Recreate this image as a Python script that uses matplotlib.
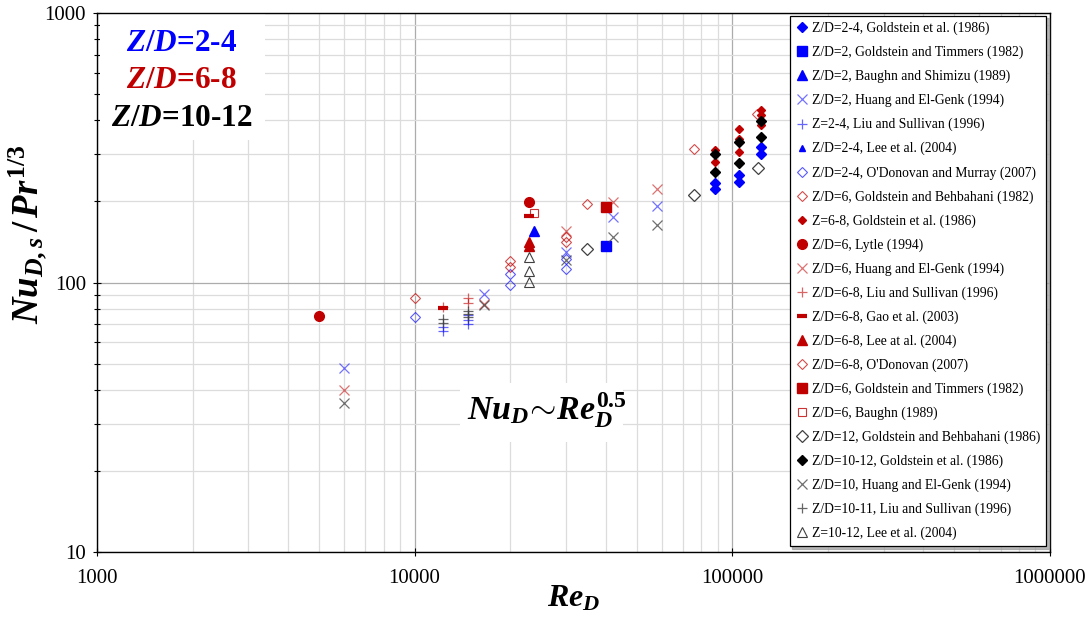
import numpy as np
import matplotlib
matplotlib.use("Agg")
import matplotlib.pyplot as plt
from matplotlib.patches import Rectangle
from matplotlib.ticker import LogLocator, NullFormatter, FixedLocator, FixedFormatter

plt.rcParams['font.family'] = ['Liberation Serif', 'DejaVu Serif']
plt.rcParams['mathtext.fontset'] = 'custom'
plt.rcParams['mathtext.rm'] = 'Liberation Serif:bold'
plt.rcParams['mathtext.it'] = 'Liberation Serif:italic:bold'
plt.rcParams['mathtext.bf'] = 'Liberation Serif:bold'

BLUE = '#0000FF'
RED = '#C00000'
BLACK = '#000000'
GREY = '#404040'

# ---- data (Re_D, Nu/Pr^1/3) ----
# Z/D = 2-4
gold86_24_re = [88000, 88000, 105000, 105000, 123000, 123000]
gold86_24_nu = [235, 222, 250, 236, 318, 301]
goldtim_2_re = [40000]
goldtim_2_nu = [137]
baughn_2_re = [23700]
baughn_2_nu = [156]
huang_2_re = [6000, 16600, 30000, 42000, 58000]
huang_2_nu = [48.4, 91, 130, 175, 192]
liu_24_re = [12300, 12300, 14700, 14700, 14700]
liu_24_nu = [68.4, 66.2, 75.5, 72.6, 70.2]
lee_24_re = [23700]
lee_24_nu = [155]
odon_24_re = [10000, 20000, 20000, 30000, 30000]
odon_24_nu = [74.7, 107.6, 98.3, 122.5, 112.5]

# Z/D = 6-8
goldbeh_6_re = [35000, 76000, 120000]
goldbeh_6_nu = [195, 312, 421]
gold86_68_re = [88000, 88000, 105000, 105000, 105000, 123000, 123000, 123000]
gold86_68_nu = [310, 280, 372, 342, 305, 438, 418, 383]
lytle_6_re = [5000, 23000]
lytle_6_nu = [75, 199]
huang_6_re = [6000, 16600, 30000, 42000, 58000]
huang_6_nu = [40, 83, 156, 199, 223]
liu_68_re = [12300, 14700, 14700]
liu_68_nu = [81, 88, 84]
gao_68_re = [12300, 23000]
gao_68_nu = [80.3, 177]
lee_68_re = [23000, 23000]
lee_68_nu = [141, 137]
odon_68_re = [10000, 20000, 20000, 30000, 30000]
odon_68_nu = [88, 120, 114.7, 147, 141]
goldtim_6_re = [40000]
goldtim_6_nu = [190.6]
baughn_6_re = [23700]
baughn_6_nu = [181]

# Z/D = 10-12
goldbeh_12_re = [35000, 76000, 121000]
goldbeh_12_nu = [133, 212, 267]
gold86_1012_re = [88000, 88000, 105000, 105000, 123000, 123000]
gold86_1012_nu = [300, 257, 332, 278, 398, 347]
huang_10_re = [6000, 16600, 30000, 42000, 58000]
huang_10_nu = [35.6, 82.8, 121, 148, 163]
liu_1011_re = [12300, 12300, 14700, 14700, 14700]
liu_1011_nu = [73.2, 70.5, 78.3, 76.6, 74.5]
lee_1012_re = [23000, 23000, 23000]
lee_1012_nu = [124, 110.5, 100.3]

series = [
    (gold86_24_re, gold86_24_nu, 'Z/D=2-4, Goldstein et al. (1986)', dict(marker='D', ms=5, color=BLUE)),
    (goldtim_2_re, goldtim_2_nu, 'Z/D=2, Goldstein and Timmers (1982)', dict(marker='s', ms=6.5, color=BLUE)),
    (baughn_2_re, baughn_2_nu, 'Z/D=2, Baughn and Shimizu (1989)', dict(marker='^', ms=7, color=BLUE)),
    (huang_2_re, huang_2_nu, 'Z/D=2, Huang and El-Genk (1994)', dict(marker='x', ms=7.5, mew=0.9, color=BLUE, alpha=0.55)),
    (liu_24_re, liu_24_nu, 'Z=2-4, Liu and Sullivan (1996)', dict(marker='+', ms=7, mew=0.9, color=BLUE, alpha=0.6)),
    (lee_24_re, lee_24_nu, 'Z/D=2-4, Lee et al. (2004)', dict(marker='^', ms=5, color=BLUE)),
    (odon_24_re, odon_24_nu, "Z/D=2-4, O'Donovan and Murray (2007)", dict(marker='D', ms=5.5, mfc='none', mec=BLUE, mew=0.8, alpha=0.65)),
    (goldbeh_6_re, goldbeh_6_nu, 'Z/D=6, Goldstein and Behbahani (1982)', dict(marker='D', ms=5.5, mfc='none', mec=RED, mew=0.8, alpha=0.7)),
    (gold86_68_re, gold86_68_nu, 'Z=6-8, Goldstein et al. (1986)', dict(marker='D', ms=3.6, color=RED)),
    (lytle_6_re, lytle_6_nu, 'Z/D=6, Lytle (1994)', dict(marker='o', ms=7, color=RED)),
    (huang_6_re, huang_6_nu, 'Z/D=6, Huang and El-Genk (1994)', dict(marker='x', ms=7.5, mew=0.9, color=RED, alpha=0.55)),
    (liu_68_re, liu_68_nu, 'Z/D=6-8, Liu and Sullivan (1996)', dict(marker='+', ms=7, mew=0.9, color=RED, alpha=0.6)),
    (gao_68_re, gao_68_nu, 'Z/D=6-8, Gao et al. (2003)', dict(marker='_', ms=7, mew=3, color=RED)),
    (lee_68_re, lee_68_nu, 'Z/D=6-8, Lee at al. (2004)', dict(marker='^', ms=6.5, color=RED)),
    (odon_68_re, odon_68_nu, "Z/D=6-8, O'Donovan (2007)", dict(marker='D', ms=5.5, mfc='none', mec=RED, mew=0.8, alpha=0.7)),
    (goldtim_6_re, goldtim_6_nu, 'Z/D=6, Goldstein and Timmers (1982)', dict(marker='s', ms=6.5, color=RED)),
    (baughn_6_re, baughn_6_nu, 'Z/D=6, Baughn (1989)', dict(marker='s', ms=6, mfc='none', mec=RED, mew=0.8, alpha=0.8)),
    (goldbeh_12_re, goldbeh_12_nu, 'Z/D=12, Goldstein and Behbahani (1986)', dict(marker='D', ms=5.8, mfc='none', mec=GREY, mew=0.9)),
    (gold86_1012_re, gold86_1012_nu, 'Z/D=10-12, Goldstein et al. (1986)', dict(marker='D', ms=5.5, color=BLACK)),
    (huang_10_re, huang_10_nu, 'Z/D=10, Huang and El-Genk (1994)', dict(marker='x', ms=7.5, mew=0.9, color=GREY, alpha=0.75)),
    (liu_1011_re, liu_1011_nu, 'Z/D=10-11, Liu and Sullivan (1996)', dict(marker='+', ms=7, mew=0.9, color=GREY, alpha=0.8)),
    (lee_1012_re, lee_1012_nu, 'Z=10-12, Lee et al. (2004)', dict(marker='^', ms=7, mfc='none', mec=GREY, mew=0.8)),
]

fig = plt.figure(figsize=(10.89, 6.19), dpi=100)
ax = fig.add_axes([0.089, 0.108, 0.875, 0.871])

for re_, nu_, lab, style in series:
    ax.plot(re_, nu_, linestyle='none', label=lab, zorder=3, **style)

ax.set_xscale('log')
ax.set_yscale('log')
ax.set_xlim(1000, 1000000)
ax.set_ylim(10, 1000)

ax.xaxis.set_major_locator(FixedLocator([1000, 10000, 100000, 1000000]))
ax.xaxis.set_major_formatter(FixedFormatter(['1000', '10000', '100000', '1000000']))
ax.yaxis.set_major_locator(FixedLocator([10, 100, 1000]))
ax.yaxis.set_major_formatter(FixedFormatter(['10', '100', '1000']))
ax.xaxis.set_minor_locator(LogLocator(base=10, subs=np.arange(2, 10)))
ax.yaxis.set_minor_locator(LogLocator(base=10, subs=np.arange(2, 10)))
ax.xaxis.set_minor_formatter(NullFormatter())
ax.yaxis.set_minor_formatter(NullFormatter())

ax.set_axisbelow(True)
ax.grid(True, which='major', color='#acacac', linewidth=0.9)
ax.grid(True, which='minor', color='#dcdcdc', linewidth=0.9)
ax.tick_params(which='major', direction='inout', length=6, width=0.8, labelsize=15)
ax.tick_params(axis='x', which='major', pad=9)
ax.tick_params(axis='y', which='major', pad=5)
ax.tick_params(axis='x', which='minor', length=0)
ax.tick_params(axis='y', which='minor', direction='inout', length=5, width=0.8)
for sp in ax.spines.values():
    sp.set_color('black')
    sp.set_linewidth(1.0)

ax.set_xlabel(r'$Re_D$', fontsize=23)
ax.xaxis.set_label_coords(0.5, -0.06)
ax.set_ylabel(r'$Nu_{D,s}\,/\,Pr^{1/3}$', fontsize=26.5)
ax.yaxis.set_label_coords(-0.05, 0.59)

# white boxes behind the annotations
ax.add_patch(Rectangle((0.003, 0.764), 0.173, 0.234, transform=ax.transAxes,
                       facecolor='white', edgecolor='none', zorder=1))
ax.add_patch(Rectangle((0.381, 0.204), 0.171, 0.11, transform=ax.transAxes,
                       facecolor='white', edgecolor='none', zorder=1))

ax.text(0.089, 0.944, r'$Z/D$=2-4', color=BLUE, fontsize=22.5, fontweight='bold',
        ha='center', va='center', transform=ax.transAxes, zorder=4)
ax.text(0.089, 0.874, r'$Z/D$=6-8', color=RED, fontsize=22.5, fontweight='bold',
        ha='center', va='center', transform=ax.transAxes, zorder=4)
ax.text(0.089, 0.805, r'$Z/D$=10-12', color=BLACK, fontsize=22.5, fontweight='bold',
        ha='center', va='center', transform=ax.transAxes, zorder=4)
ax.text(0.472, 0.2635, r'$Nu_D\!\sim\!Re_D^{0.5}$', color=BLACK, fontsize=24.5,
        ha='center', va='center', transform=ax.transAxes, zorder=4)

leg = ax.legend(loc='upper right', bbox_to_anchor=(0.9965, 0.995), fontsize=9.8,
                frameon=True, fancybox=False, edgecolor='black', framealpha=1,
                handlelength=0.9, handletextpad=0.3, labelspacing=0.775,
                borderpad=0.45, borderaxespad=0, numpoints=1,
                shadow={'ox': 2, 'oy': -2, 'color': '0.6', 'alpha': 0.7})
leg.get_frame().set_linewidth(0.9)
leg.set_zorder(5)

fig.savefig('out.png', dpi=100)
